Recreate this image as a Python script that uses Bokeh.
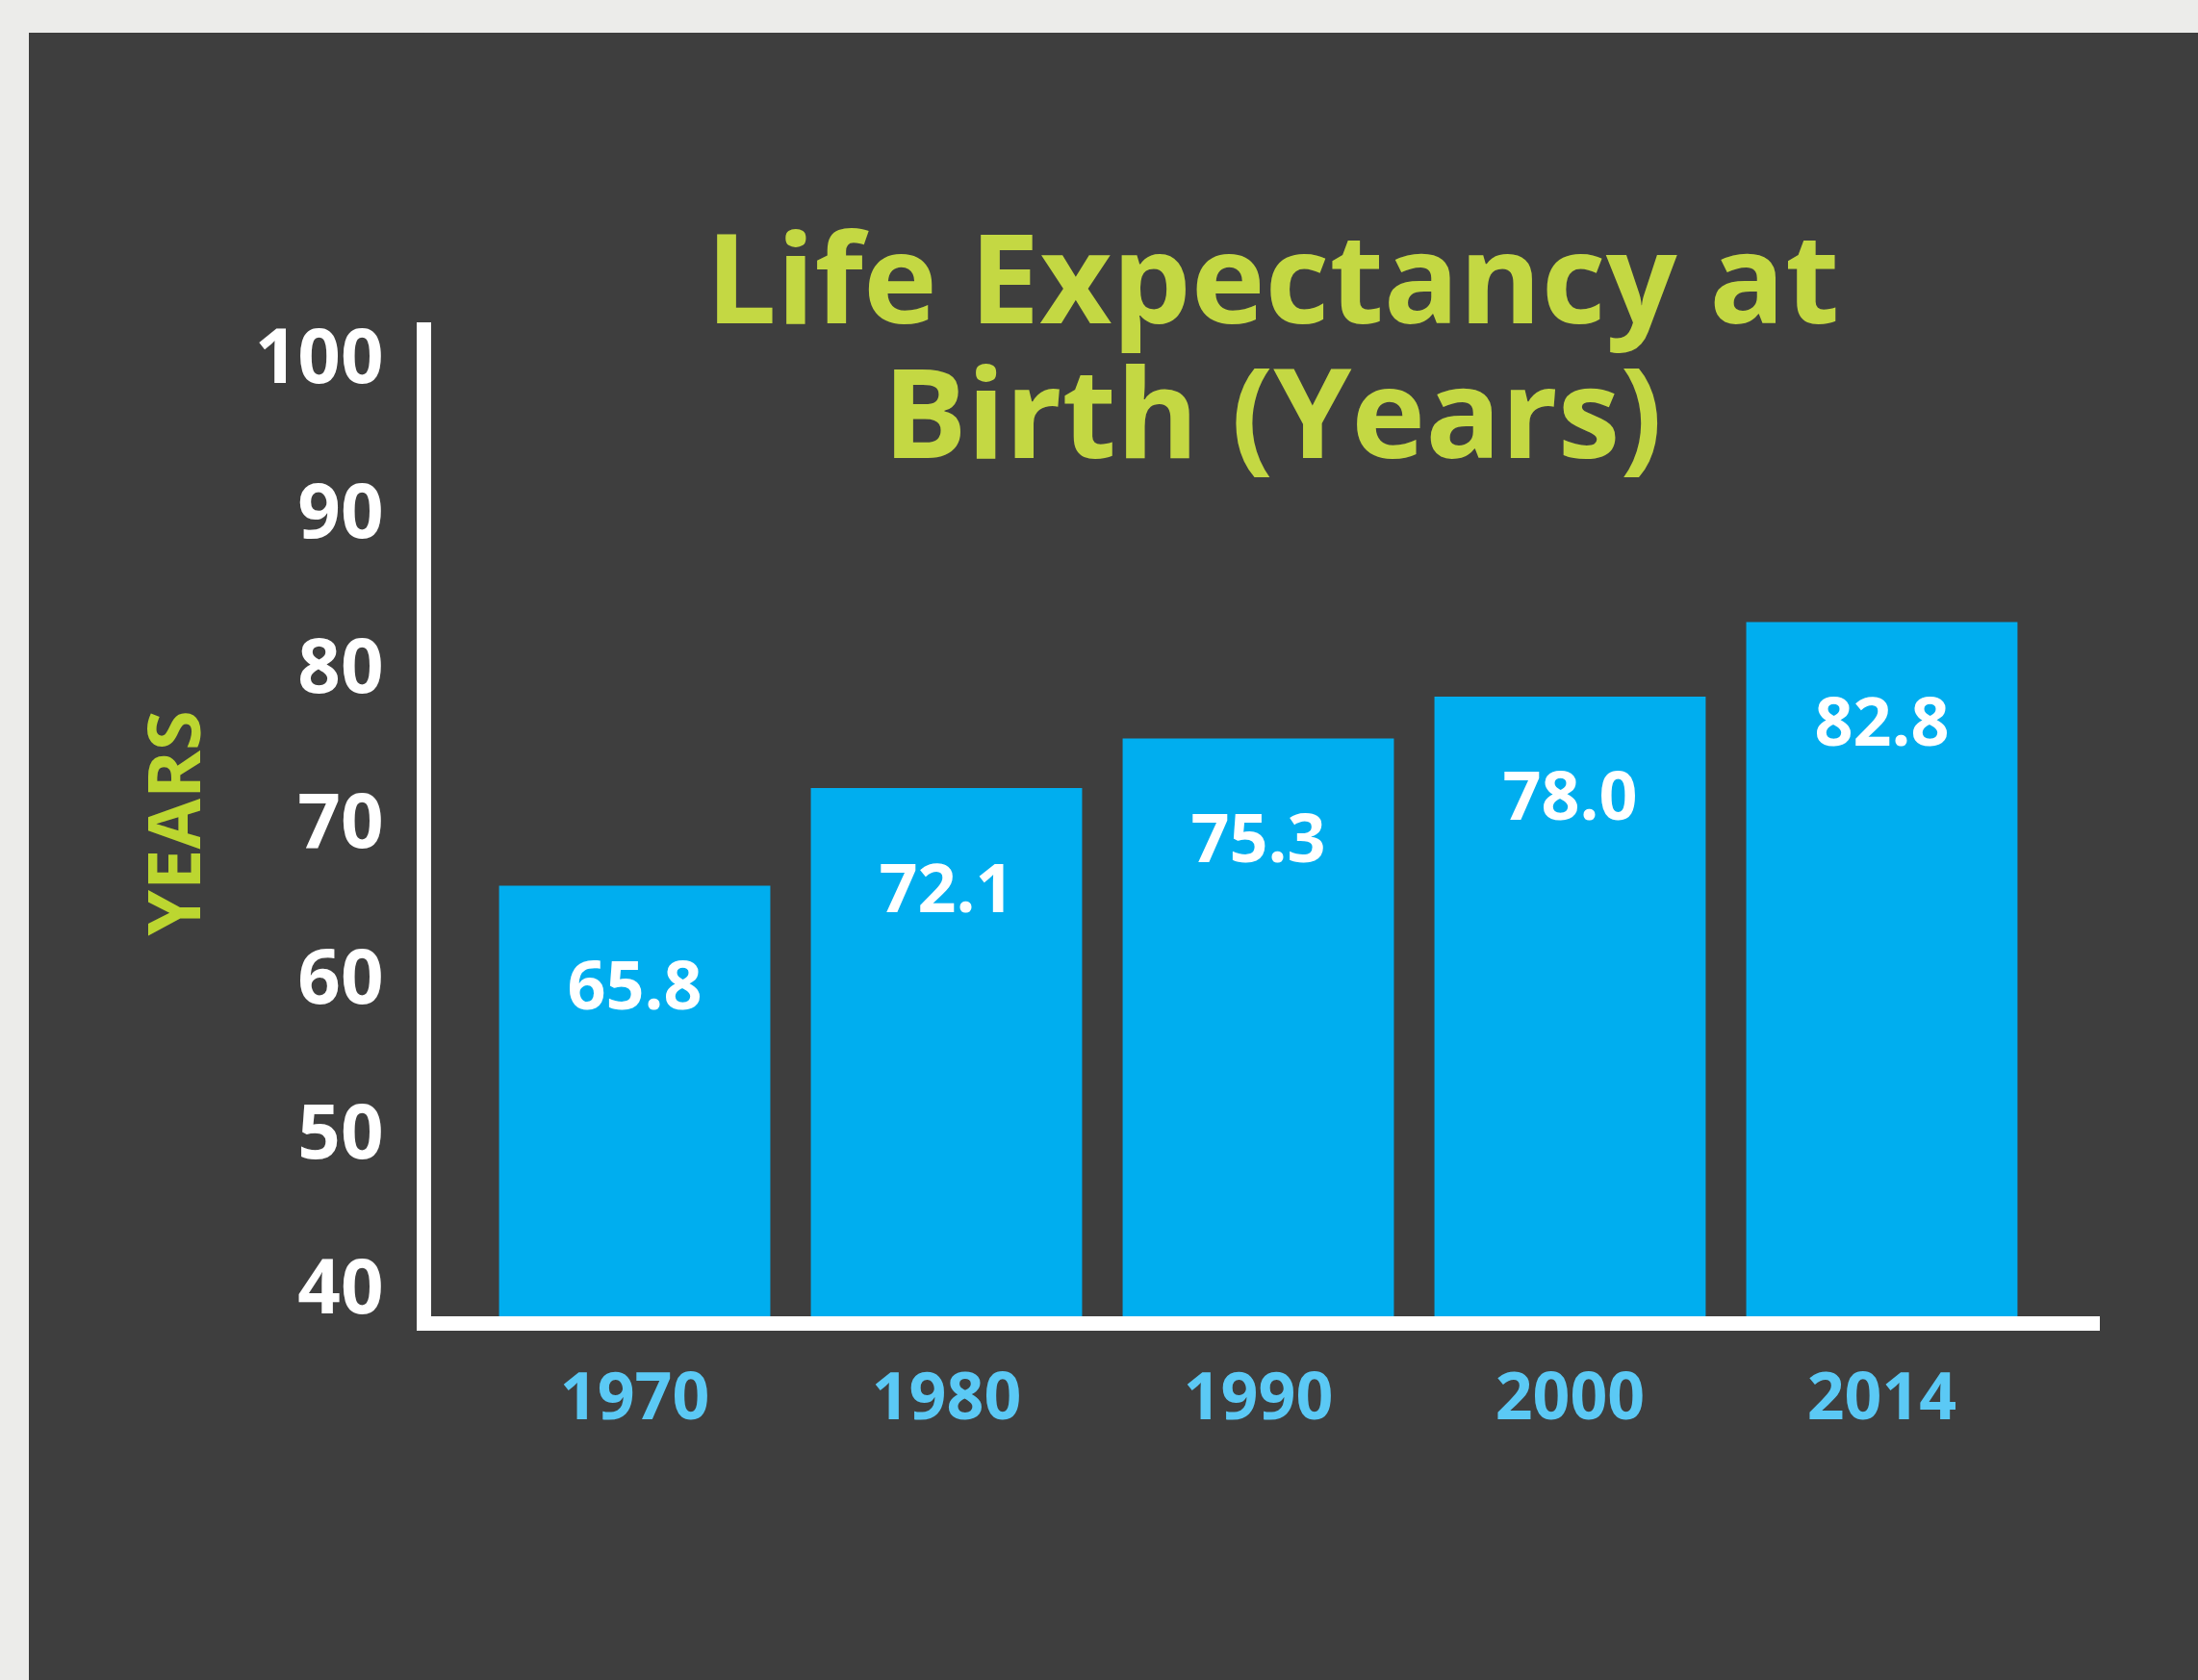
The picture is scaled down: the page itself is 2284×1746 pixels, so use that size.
from bokeh.plotting import figure
from bokeh.models import FactorRange, Range1d, FixedTicker, Label, ColumnDataSource, Spacer, Title
from bokeh.layouts import column, row
from bokeh.core.properties import value
from bokeh.embed import file_html
from bokeh.resources import INLINE

# ---- data ----
years = ["1970", "1980", "1990", "2000", "2014"]
life_expectancy = [65.8, 72.1, 75.3, 78.0, 82.8]
value_labels = [f"{v:.1f}" for v in life_expectancy]
y_ticks = [40, 50, 60, 70, 80, 90, 100]
title_lines = ["Life Expectancy at", "Birth (Years)"]
y_axis_label = "YEARS"

# ---- styles ----
PAGE_BG = "#ECECEA"
PANEL_BG = "#3E3E3E"
BAR = "#00AEEF"
GREEN = "#C4D843"
GREEN_LABEL = "#BCD630"
XLAB = "#5BC9F5"
FONT = "Open Sans"

Y_START, Y_AXIS_END, Y_END = 37.58, 101.66, 120.77

src = ColumnDataSource(dict(year=years, life=life_expectancy, label=value_labels))

p = figure(
    x_range=FactorRange(*years, range_padding=0.0704),
    y_range=Range1d(Y_START, Y_END),
    width=2254, height=1712,
    output_backend="svg", toolbar_location=None,
    title_location=None,
    min_border_left=410, min_border_top=0,
    min_border_right=110, min_border_bottom=371,
    styles={"background-color": PANEL_BG},
)
p.background_fill_color = PANEL_BG
p.border_fill_color = PANEL_BG
p.outline_line_color = None
p.grid.visible = False

p.vbar(x="year", top="life", bottom=Y_START, width=0.87, source=src,
       fill_color=BAR, line_color=None)

p.text(x="year", y="life", text="label", source=src, y_offset=103,
       text_align="center", text_baseline="middle",
       text_font=value(FONT), text_font_style="bold",
       text_font_size="70px", text_color="white")

for ax in (p.xaxis[0], p.yaxis[0]):
    ax.axis_line_color = "white"
    ax.axis_line_width = 15
    ax.axis_line_cap = "square"
    ax.major_tick_line_color = None
    ax.minor_tick_line_color = None
    ax.major_tick_out = 0
    ax.major_tick_in = 0
    ax.major_label_text_font = FONT
    ax.major_label_text_font_style = "bold"

p.xaxis.major_label_text_font_size = "68px"
p.xaxis.major_label_text_color = XLAB
p.xaxis.major_label_standoff = 50

p.yaxis.bounds = (Y_START, Y_AXIS_END)
p.yaxis.ticker = FixedTicker(ticks=y_ticks)
p.yaxis.major_label_text_font_size = "78px"
p.yaxis.major_label_text_color = "white"
p.yaxis.major_label_standoff = 42

# y-axis name, placed beside the drawn part of the axis
p.add_layout(Title(text=y_axis_label, align="left", offset=403, standoff=64,
                   text_font=FONT, text_font_style="bold", text_font_size="76px",
                   text_color=GREEN_LABEL), "left")

for txt, yv in zip(title_lines, [105.2, 96.52]):
    p.add_layout(Label(x=2.546, y=yv, text=txt, text_align="center",
                       text_baseline="alphabetic", text_font=FONT,
                       text_font_style="bold", text_font_size="130px",
                       text_color=GREEN))

top_strip = Spacer(width=2284, height=34, styles={"background-color": PAGE_BG})
left_strip = Spacer(width=30, height=1712, styles={"background-color": PAGE_BG})
layout = column(top_strip, row(left_strip, p), styles={"background-color": PAGE_BG})

open("out.html", "w").write(file_html(layout, INLINE))
